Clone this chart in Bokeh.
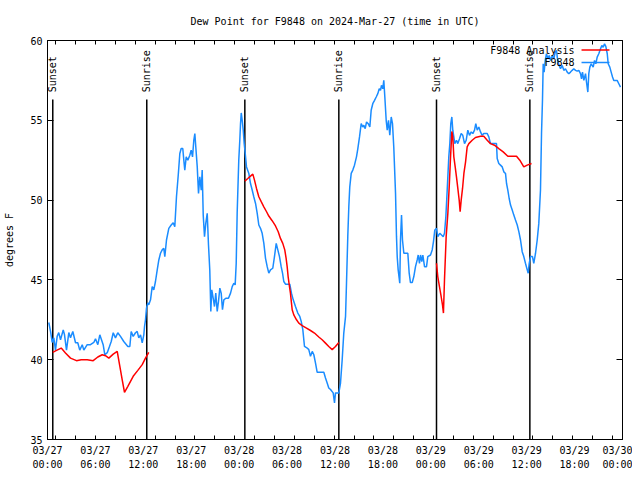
import math
from bokeh.plotting import figure
from bokeh.models import Range1d, FixedTicker, LinearAxis, Label, Arrow, CustomJSTickFormatter
from bokeh.core.properties import value
from bokeh.embed import file_html
from bokeh.resources import INLINE

FONT = "DejaVu Sans Mono"
BLUE = "#1a8cff"
RED = "#ff0000"

title_text = "Dew Point for F9848 on 2024-Mar-27 (time in UTC)"
y_label = "degrees F"

# x axis in hours since 2024-03-27 00:00 UTC
x_tick_hours = [0, 6, 12, 18, 24, 30, 36, 42, 48, 54, 60, 66, 72]
x_tick_labels = ["03/27\n00:00", "03/27\n06:00", "03/27\n12:00", "03/27\n18:00",
                 "03/28\n00:00", "03/28\n06:00", "03/28\n12:00", "03/28\n18:00",
                 "03/29\n00:00", "03/29\n06:00", "03/29\n12:00", "03/29\n18:00",
                 "03/30\n00:00"]
y_ticks = [35, 40, 45, 50, 55, 60]

sun_hours = [0.66, 12.43, 24.71, 36.48, 48.71, 60.40]
sun_labels = ["Sunset", "Sunrise", "Sunset", "Sunrise", "Sunset", "Sunrise"]

# Observations (F9848), (hour, dew point F)
obs_night1 = [(0.16, 42.33), (0.38, 41.77), (0.59, 41.08), (0.79, 41.37), (1.00, 40.6),
              (1.21, 41.46), (1.41, 41.7), (1.63, 41.25), (1.97, 41.87), (2.13, 41.56),
              (2.38, 40.6), (2.67, 41.7), (2.88, 41.37), (3.17, 41.77), (3.51, 41.06),
              (3.79, 41.06), (4.04, 40.6), (4.35, 40.94), (4.55, 40.6), (4.97, 40.94),
              (5.38, 40.94), (5.80, 41.08), (6.01, 41.31), (6.30, 40.94), (6.55, 41.56),
              (6.76, 41.25), (6.97, 40.94), (7.18, 40.31), (7.48, 40.44), (7.76, 40.83),
              (7.98, 41.14), (8.23, 41.69), (8.51, 41.37), (8.80, 41.69), (9.14, 41.46),
              (9.55, 41.14), (10.06, 40.83), (10.31, 40.83), (10.48, 41.77), (10.73, 41.46),
              (11.02, 41.69), (11.23, 41.77), (11.43, 41.37), (11.65, 41.56), (11.86, 41.06),
              (12.06, 41.56), (12.15, 42.08), (12.27, 42.5), (12.40, 43.25), (12.56, 43.56)]
obs_day1 = [(12.68, 43.44), (12.90, 43.75), (13.11, 44.58), (13.31, 44.38), (13.52, 44.9),
            (13.74, 45.63), (13.94, 46.25), (14.15, 46.67), (14.36, 46.88), (14.56, 46.98),
            (14.69, 46.46), (14.90, 47.5), (15.19, 48.23), (15.49, 48.44), (15.74, 48.58),
            (15.94, 48.33), (16.15, 50.21), (16.37, 51.56), (16.57, 52.92), (16.74, 53.23),
            (16.94, 53.23), (17.07, 52.5), (17.19, 51.88), (17.37, 52.71), (17.57, 52.5),
            (17.82, 52.81), (17.99, 53.13), (18.16, 52.71), (18.32, 53.75), (18.45, 54.17),
            (18.57, 53.33), (18.75, 52.08), (18.91, 50.42), (19.07, 51.46), (19.25, 50.63),
            (19.37, 51.88), (19.50, 49.06), (19.66, 47.71), (19.82, 48.54), (20.00, 49.17),
            (20.16, 47.19), (20.32, 45.63), (20.45, 43.02), (20.57, 44.38), (20.75, 43.85),
            (20.91, 43.33), (21.07, 44.17), (21.25, 43.02), (21.41, 43.65), (21.58, 44.48),
            (21.75, 44.17), (21.91, 43.13), (22.08, 43.75), (22.33, 43.85), (22.66, 43.85),
            (22.92, 44.17), (23.13, 44.58), (23.33, 44.79), (23.50, 44.69), (23.63, 46.04),
            (23.75, 49.17), (23.95, 52.5), (24.08, 53.75), (24.17, 54.79), (24.26, 55.46),
            (24.38, 55.0), (24.51, 54.38), (24.63, 53.54), (24.76, 52.92), (24.92, 52.08)]
obs_night2 = [(25.21, 51.67), (25.42, 51.04), (25.63, 50.63), (25.83, 50.21), (26.05, 49.79),
              (26.26, 49.17), (26.46, 48.44), (26.67, 48.23), (26.88, 47.92), (27.09, 47.29),
              (27.30, 46.35), (27.51, 45.83), (27.71, 45.42), (27.92, 45.63), (28.21, 45.73),
              (28.42, 46.46), (28.64, 47.29), (28.84, 46.88), (29.05, 46.46), (29.26, 45.83),
              (29.43, 45.42), (29.59, 44.9), (29.80, 44.73), (30.34, 44.73), (30.55, 44.17),
              (30.77, 43.75), (31.05, 43.33), (31.34, 42.92), (31.59, 42.71), (31.77, 42.4),
              (31.97, 41.88), (32.18, 40.83), (32.52, 40.73), (32.72, 40.63), (32.93, 40.21),
              (33.15, 40.52), (33.35, 40.31), (33.56, 39.79), (33.77, 39.21), (34.60, 39.21),
              (34.81, 38.85), (35.02, 38.54), (35.22, 38.23), (35.44, 38.13), (35.77, 37.92),
              (35.94, 37.29), (36.06, 37.92), (36.48, 37.92), (36.69, 38.54), (36.90, 40.0)]
obs_day2 = [(37.10, 41.67), (37.32, 42.71), (37.44, 44.79), (37.60, 47.71), (37.73, 49.58),
            (37.85, 50.83), (38.03, 51.67), (38.23, 51.88), (38.44, 52.19), (38.69, 52.71),
            (38.86, 53.23), (39.07, 53.96), (39.28, 54.79), (39.48, 54.58), (39.61, 54.69),
            (39.78, 54.48), (39.95, 54.9), (40.16, 54.79), (40.36, 54.58), (40.53, 55.63),
            (40.73, 56.04), (40.95, 56.25), (41.16, 56.46), (41.36, 56.67), (41.54, 56.98),
            (41.70, 56.88), (41.82, 57.19), (41.99, 56.98), (42.11, 57.5), (42.24, 56.46),
            (42.41, 55.0), (42.54, 54.38), (42.70, 55.0), (42.86, 54.06), (43.04, 55.21),
            (43.20, 54.79), (43.36, 53.33), (43.58, 50.42), (43.70, 47.71), (43.79, 46.46),
            (43.91, 45.63), (44.04, 45.1), (44.11, 44.79), (44.20, 47.5), (44.33, 49.06),
            (44.45, 47.5), (44.62, 46.67), (45.12, 46.67), (45.29, 45.42), (45.45, 44.83),
            (45.67, 44.83), (45.87, 45.21), (46.08, 45.83), (46.29, 46.25), (46.42, 46.56),
            (46.58, 46.04), (46.71, 46.56), (46.87, 46.15), (47.00, 46.56), (47.21, 45.83),
            (47.46, 45.83), (47.62, 46.46), (47.96, 46.56), (48.17, 46.88), (48.33, 47.4),
            (48.50, 48.13)]
obs_night3 = [(48.71, 48.23), (48.87, 47.71), (49.12, 47.92), (49.34, 47.81), (49.55, 47.71),
              (49.71, 47.92), (49.88, 48.96), (50.05, 50.63), (50.25, 52.71), (50.38, 53.54),
              (50.50, 54.79), (50.63, 55.21), (50.75, 54.38), (50.88, 53.96), (51.00, 53.54),
              (51.21, 53.75), (51.38, 53.54), (51.59, 53.85), (51.80, 54.17), (52.00, 54.06),
              (52.22, 53.54), (52.43, 53.75), (52.63, 54.38), (52.84, 54.06), (53.06, 54.27),
              (53.26, 54.17), (53.47, 54.38), (53.63, 54.79), (53.81, 54.38), (54.01, 54.58),
              (54.22, 54.27), (54.43, 54.06), (54.63, 54.17), (55.06, 54.17), (55.26, 53.96),
              (55.47, 53.54), (56.22, 53.54), (56.31, 52.6), (56.51, 52.29), (56.72, 52.19),
              (56.94, 52.08), (57.14, 51.77), (57.35, 51.67), (57.48, 51.04), (57.64, 50.63),
              (57.81, 50.1), (57.98, 49.69), (58.19, 49.38), (58.39, 49.06), (58.60, 48.75),
              (58.82, 48.44), (59.02, 48.02), (59.23, 47.5), (59.44, 46.77), (59.64, 46.46),
              (59.85, 46.04), (60.07, 45.63), (60.19, 45.42), (60.32, 46.04)]
obs_day3 = [(60.48, 46.46), (60.73, 46.46), (60.89, 46.04), (61.11, 46.67), (61.32, 47.5),
            (61.52, 48.54), (61.73, 50.63), (61.86, 54.17), (61.98, 56.25), (62.07, 58.54),
            (62.19, 58.02), (62.32, 58.75), (62.48, 59.17), (62.65, 58.85), (62.82, 59.06),
            (62.99, 58.75), (63.20, 59.06), (63.40, 58.85), (63.58, 59.27), (63.74, 59.38),
            (63.90, 58.65), (64.08, 58.44), (64.24, 58.23), (64.45, 58.44), (64.65, 58.13),
            (64.86, 58.23), (65.08, 58.02), (65.28, 57.92), (65.49, 58.02), (65.70, 58.13),
            (65.90, 58.23), (66.12, 58.13), (66.33, 58.08), (66.53, 58.13), (66.74, 57.92),
            (66.87, 57.6), (66.99, 58.02), (67.16, 57.5), (67.37, 57.92), (67.49, 57.4),
            (67.66, 56.77), (67.78, 57.92), (67.91, 58.33), (68.08, 58.54), (68.33, 58.33),
            (68.50, 58.75), (68.66, 58.54), (68.83, 58.96), (69.03, 59.17), (69.25, 59.48),
            (69.41, 59.69), (69.58, 59.58), (69.75, 59.79), (69.91, 59.63), (70.09, 59.17),
            (70.21, 58.54), (70.41, 58.33), (70.58, 58.02), (70.75, 57.71), (70.91, 57.5),
            (71.33, 57.5), (71.54, 57.29), (71.75, 57.08)]

# Analysis (F9848 Analysis), shown sunset to sunrise
ana_night1 = [(0.66, 40.46), (1.13, 40.58), (1.72, 40.73), (2.25, 40.42), (2.88, 40.1),
              (3.63, 39.94), (4.22, 40.0), (4.97, 40.0), (5.72, 39.94), (6.30, 40.17),
              (6.85, 40.31), (7.26, 40.25), (7.68, 40.1), (8.23, 40.35), (8.73, 40.52),
              (9.06, 39.58), (9.35, 38.75), (9.64, 37.96), (10.06, 38.33), (10.73, 38.96),
              (11.31, 39.33), (11.86, 39.69), (12.27, 40.1), (12.68, 40.46)]
ana_night2 = [(24.71, 51.19), (25.08, 51.35), (25.42, 51.5), (25.71, 51.63), (25.92, 51.25),
              (26.17, 50.73), (26.46, 50.21), (26.76, 49.9), (27.09, 49.58), (27.43, 49.27),
              (27.71, 49.0), (28.13, 48.71), (28.55, 48.38), (28.89, 48.02), (29.17, 47.6),
              (29.46, 47.29), (29.71, 46.88), (29.88, 46.35), (30.01, 45.83), (30.13, 45.21),
              (30.30, 44.58), (30.42, 44.17), (30.55, 43.54), (30.64, 43.13), (30.84, 42.81),
              (31.18, 42.5), (31.47, 42.29), (31.89, 42.13), (32.43, 41.98), (32.93, 41.83),
              (33.43, 41.67), (33.97, 41.42), (34.39, 41.25), (34.81, 41.04), (35.22, 40.83),
              (35.65, 40.63), (36.06, 40.83), (36.48, 41.08)]
ana_night3 = [(48.71, 46.04), (48.87, 45.21), (49.08, 44.58), (49.29, 43.96), (49.46, 43.44),
              (49.58, 42.92), (49.71, 45.0), (49.92, 47.71), (50.13, 49.17), (50.30, 50.83),
              (50.47, 52.71), (50.63, 54.3), (50.75, 53.96), (50.88, 52.71), (51.05, 52.08),
              (51.21, 51.46), (51.38, 50.73), (51.55, 50.0), (51.67, 49.27), (51.80, 50.0),
              (51.97, 50.73), (52.14, 51.67), (52.35, 52.4), (52.55, 53.33), (52.76, 53.54),
              (53.18, 53.75), (53.59, 53.92), (54.22, 54.0), (54.63, 54.0), (55.06, 53.75),
              (55.47, 53.54), (55.97, 53.44), (56.51, 53.23), (57.06, 53.02), (57.64, 52.75),
              (58.19, 52.75), (58.73, 52.75), (59.14, 52.5), (59.64, 52.08), (60.07, 52.19),
              (60.61, 52.29)]

obs = obs_night1 + obs_day1 + obs_night2 + obs_day2 + obs_night3 + obs_day3
obs_hours = [h for h, v in obs]
obs_dewpt = [v for h, v in obs]

ana_hours, ana_dewpt = [], []
for seg in (ana_night1, ana_night2, ana_night3):
    if ana_hours:
        ana_hours.append(float("nan"))
        ana_dewpt.append(float("nan"))
    ana_hours += [h for h, v in seg]
    ana_dewpt += [v for h, v in seg]

X0, X1 = 0, 72
Y0, Y1 = 35, 60

p = figure(width=632, height=472, x_range=Range1d(X0, X1), y_range=Range1d(Y0, Y1),
           output_backend="svg", toolbar_location=None, title=title_text,
           min_border_left=47, min_border_right=10, min_border_top=40, min_border_bottom=32)
p.background_fill_color = "white"
p.border_fill_color = "white"
p.outline_line_color = "black"
p.outline_line_width = 1
p.xgrid.visible = False
p.ygrid.visible = False

p.title.align = "center"
p.title.text_font = FONT
p.title.text_font_size = "10px"
p.title.text_font_style = "normal"
p.title.text_color = "black"
p.title.standoff = 27

minor_x = [1.03 + 2.49 * k for k in range(29)]
blank = CustomJSTickFormatter(code="return ''")

xa = p.xaxis[0]
xa.ticker = FixedTicker(ticks=x_tick_hours, minor_ticks=minor_x)
xa.major_label_overrides = {h: lab for h, lab in zip(x_tick_hours, x_tick_labels)}
xa.major_tick_in = 0
xa.major_tick_out = 0
xa.minor_tick_in = 4
xa.minor_tick_out = 0
xa.major_label_standoff = 5
xa.major_label_text_font = FONT
xa.major_label_text_font_size = "10px"
xa.major_label_text_color = "black"
xa.major_label_text_line_height = 1.3
xa.axis_line_color = "black"

ya = p.yaxis[0]
ya.ticker = FixedTicker(ticks=y_ticks, minor_ticks=[])
ya.major_tick_in = 6
ya.major_tick_out = 0
ya.minor_tick_line_color = None
ya.major_label_standoff = 5
ya.major_label_text_font = FONT
ya.major_label_text_font_size = "10px"
ya.major_label_text_color = "black"
ya.axis_label = y_label
ya.axis_label_text_font = FONT
ya.axis_label_text_font_size = "10px"
ya.axis_label_text_font_style = "normal"
ya.axis_label_text_color = "black"
ya.axis_label_standoff = 12
ya.axis_line_color = "black"

top = LinearAxis(ticker=FixedTicker(ticks=x_tick_hours, minor_ticks=minor_x),
                 formatter=blank,
                 major_tick_in=0, major_tick_out=0, minor_tick_in=4, minor_tick_out=0,
                 major_label_text_color=None, major_label_standoff=0,
                 axis_line_color="black")
p.add_layout(top, "above")

right = LinearAxis(ticker=FixedTicker(ticks=y_ticks, minor_ticks=[]),
                   formatter=blank,
                   major_tick_in=6, major_tick_out=0, minor_tick_line_color=None,
                   major_label_text_color=None, major_label_standoff=0,
                   axis_line_color="black")
p.add_layout(right, "right")

LINE_TOP = 56.3
LABEL_Y = 56.75
p.segment(x0=sun_hours, y0=Y0, x1=sun_hours, y1=LINE_TOP, line_color="black", line_width=1.5)
p.text(x=sun_hours, y=LABEL_Y, text=sun_labels, angle=math.pi / 2,
       text_align="left", text_baseline="middle", text_font=value(FONT),
       text_font_size="10px", text_color="black")

p.line(obs_hours, obs_dewpt, line_color=BLUE, line_width=1.5)
p.line(ana_hours, ana_dewpt, line_color=RED, line_width=1.5)

# legend (text left of sample line, as in the original)
LEG_TEXT_X = 65.99
LEG_LINE_X0, LEG_LINE_X1 = 66.87, 70.37
for name, col, yy in (("F9848 Analysis", RED, 59.40), ("F9848", BLUE, 58.62)):
    p.add_layout(Label(x=LEG_TEXT_X, y=yy, text=name, text_align="right",
                       text_baseline="middle", text_font=FONT, text_font_size="10px",
                       text_color="black"))
    p.add_layout(Arrow(start=None, end=None, x_start=LEG_LINE_X0, y_start=yy,
                       x_end=LEG_LINE_X1, y_end=yy, line_color=col, line_width=1.5))

open("out.html", "w").write(file_html(p, INLINE))
